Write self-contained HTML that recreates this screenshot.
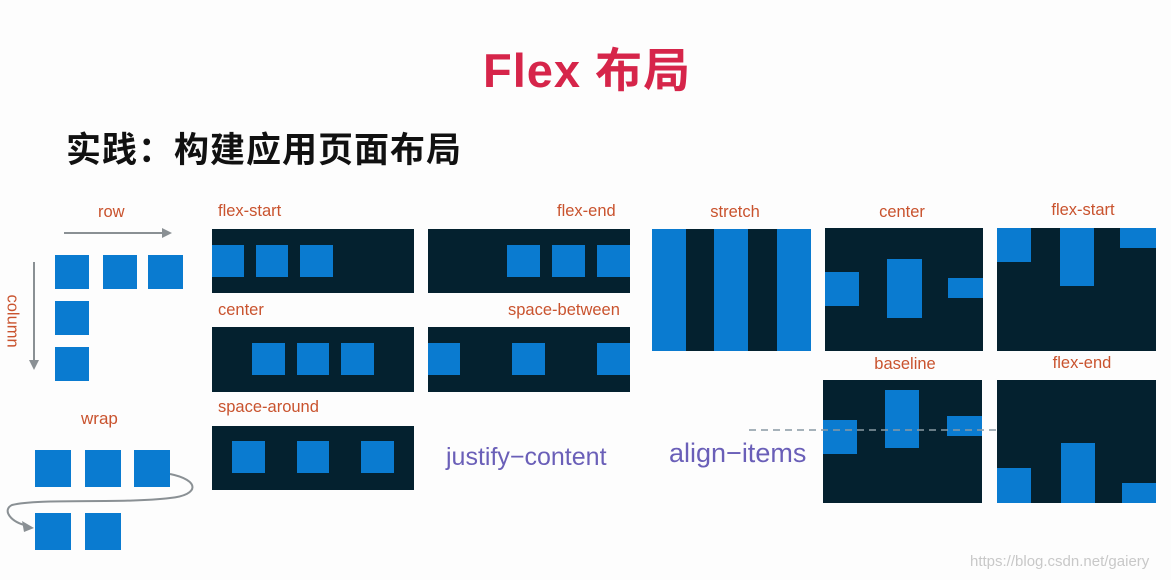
<!DOCTYPE html>
<html><head><meta charset="utf-8"><style>
body{margin:0;width:1171px;height:580px;background:#fdfdfd;position:relative;overflow:hidden;font-family:"Liberation Sans","Noto Sans CJK SC",sans-serif}
.a{position:absolute}
.d{position:absolute;background:#04212f}
.b{position:absolute;background:#0a7bd0}
.l{position:absolute;color:#c9532e;font-size:16.5px;white-space:nowrap}
.c{position:absolute;color:#c9532e;font-size:16.5px;white-space:nowrap;width:160px;text-align:center}
</style></head><body>
<div class="a" style="left:483px;top:32px;font-size:47px;font-weight:bold;color:#d6254a;white-space:nowrap;letter-spacing:1px">Flex 布局</div>
<div class="a" style="left:66px;top:122px;font-size:35px;font-weight:bold;color:#111;white-space:nowrap;letter-spacing:1px">实践：构建应用页面布局</div>

<div class="l" style="left:98px;top:203px">row</div>
<svg class="a" style="left:0;top:0" width="1171" height="580">
<line x1="64" y1="233" x2="164" y2="233" stroke="#8a9094" stroke-width="2"/>
<polygon points="172,233 162,228 162,238" fill="#8a9094"/>
<line x1="34" y1="262" x2="34" y2="362" stroke="#8a9094" stroke-width="2"/>
<polygon points="34,370 29,360 39,360" fill="#8a9094"/>
<path d="M170,474 C200,480 200,495 170,498 C120,504 40,498 12,505 C2,510 10,522 28,526" fill="none" stroke="#8a9094" stroke-width="2"/>
<polygon points="34,528 22,521 24,532" fill="#8a9094"/>
</svg>
<div class="l" style="top:300px;transform:rotate(90deg);transform-origin:center;width:30px;text-align:center;left:-3px">column</div>
<div class="b" style="left:55px;top:255px;width:34px;height:34px"></div>
<div class="b" style="left:103px;top:255px;width:34px;height:34px"></div>
<div class="b" style="left:148px;top:255px;width:35px;height:34px"></div>
<div class="b" style="left:55px;top:301px;width:34px;height:34px"></div>
<div class="b" style="left:55px;top:347px;width:34px;height:34px"></div>

<div class="l" style="left:81px;top:409px;font-size:17px">wrap</div>
<div class="b" style="left:35px;top:450px;width:36px;height:37px"></div>
<div class="b" style="left:85px;top:450px;width:36px;height:37px"></div>
<div class="b" style="left:134px;top:450px;width:36px;height:37px"></div>
<div class="b" style="left:35px;top:513px;width:36px;height:37px"></div>
<div class="b" style="left:85px;top:513px;width:36px;height:37px"></div>

<div class="l" style="left:218px;top:202px">flex-start</div>
<div class="d" style="left:212px;top:229px;width:202px;height:64px"></div>
<div class="b" style="left:212px;top:245px;width:32px;height:32px"></div>
<div class="b" style="left:256px;top:245px;width:32px;height:32px"></div>
<div class="b" style="left:300px;top:245px;width:33px;height:32px"></div>

<div class="l" style="left:557px;top:202px">flex-end</div>
<div class="d" style="left:428px;top:229px;width:202px;height:64px"></div>
<div class="b" style="left:507px;top:245px;width:33px;height:32px"></div>
<div class="b" style="left:552px;top:245px;width:33px;height:32px"></div>
<div class="b" style="left:597px;top:245px;width:33px;height:32px"></div>

<div class="l" style="left:218px;top:301px">center</div>
<div class="d" style="left:212px;top:327px;width:202px;height:65px"></div>
<div class="b" style="left:252px;top:343px;width:33px;height:32px"></div>
<div class="b" style="left:297px;top:343px;width:32px;height:32px"></div>
<div class="b" style="left:341px;top:343px;width:33px;height:32px"></div>

<div class="l" style="left:508px;top:301px">space-between</div>
<div class="d" style="left:428px;top:327px;width:202px;height:65px"></div>
<div class="b" style="left:428px;top:343px;width:32px;height:32px"></div>
<div class="b" style="left:512px;top:343px;width:33px;height:32px"></div>
<div class="b" style="left:597px;top:343px;width:33px;height:32px"></div>

<div class="l" style="left:218px;top:398px">space-around</div>
<div class="d" style="left:212px;top:426px;width:202px;height:64px"></div>
<div class="b" style="left:232px;top:441px;width:33px;height:32px"></div>
<div class="b" style="left:297px;top:441px;width:32px;height:32px"></div>
<div class="b" style="left:361px;top:441px;width:33px;height:32px"></div>

<div class="a" style="left:446px;top:443px;font-size:25px;color:#6a5fb8;white-space:nowrap">justify−content</div>
<div class="a" style="left:669px;top:438px;font-size:27px;color:#6a5fb8;white-space:nowrap">align−items</div>

<div class="c" style="left:655px;top:203px">stretch</div>
<div class="d" style="left:652px;top:229px;width:159px;height:122px"></div>
<div class="b" style="left:652px;top:229px;width:34px;height:122px"></div>
<div class="b" style="left:714px;top:229px;width:34px;height:122px"></div>
<div class="b" style="left:777px;top:229px;width:34px;height:122px"></div>

<div class="c" style="left:822px;top:203px">center</div>
<div class="d" style="left:825px;top:228px;width:158px;height:123px"></div>
<div class="b" style="left:825px;top:272px;width:34px;height:34px"></div>
<div class="b" style="left:887px;top:259px;width:35px;height:59px"></div>
<div class="b" style="left:948px;top:278px;width:35px;height:20px"></div>

<div class="c" style="left:1003px;top:201px">flex-start</div>
<div class="d" style="left:997px;top:228px;width:159px;height:123px"></div>
<div class="b" style="left:997px;top:228px;width:34px;height:34px"></div>
<div class="b" style="left:1060px;top:228px;width:34px;height:58px"></div>
<div class="b" style="left:1120px;top:228px;width:36px;height:20px"></div>

<div class="c" style="left:825px;top:355px">baseline</div>
<div class="d" style="left:823px;top:380px;width:159px;height:123px"></div>
<div class="b" style="left:823px;top:420px;width:34px;height:34px"></div>
<div class="b" style="left:885px;top:390px;width:34px;height:58px"></div>
<div class="b" style="left:947px;top:416px;width:35px;height:20px"></div>
<svg class="a" style="left:0;top:0" width="1171" height="580"><line x1="749" y1="430" x2="997" y2="430" stroke="#8a9aa4" stroke-width="1.5" stroke-dasharray="7,5"/></svg>

<div class="c" style="left:1002px;top:354px">flex-end</div>
<div class="d" style="left:997px;top:380px;width:159px;height:123px"></div>
<div class="b" style="left:997px;top:468px;width:34px;height:35px"></div>
<div class="b" style="left:1061px;top:443px;width:34px;height:60px"></div>
<div class="b" style="left:1122px;top:483px;width:34px;height:20px"></div>

<div class="a" style="left:970px;top:553px;font-size:15px;color:#c8c8c8;white-space:nowrap">https://blog.csdn.net/gaiery</div>
</body></html>
